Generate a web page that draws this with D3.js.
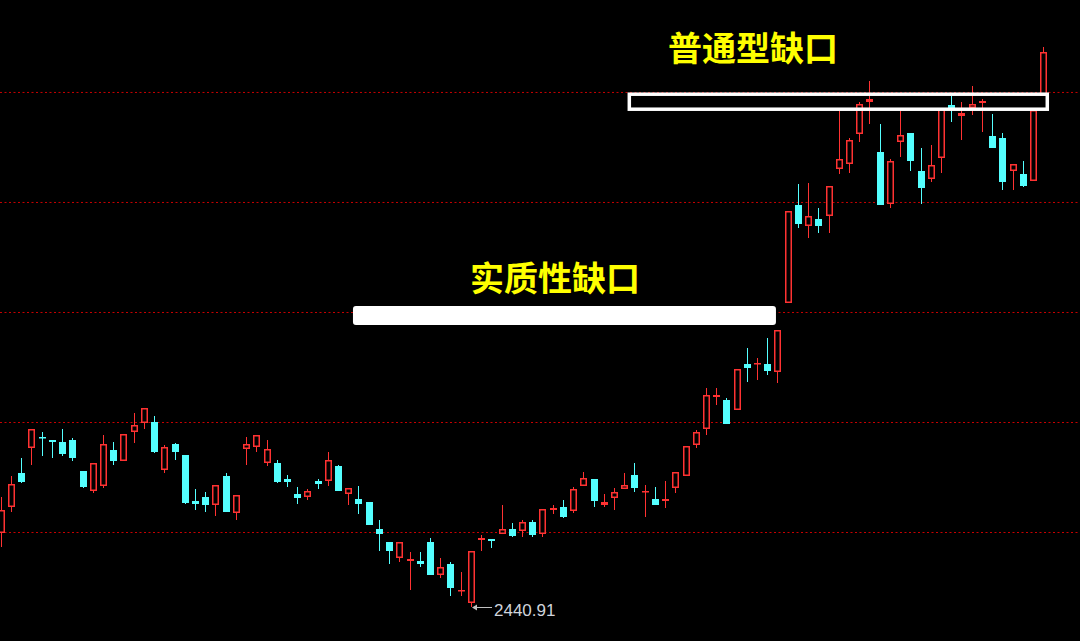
<!DOCTYPE html>
<html>
<head>
<meta charset="utf-8">
<script src="https://cdn.jsdelivr.net/npm/d3@7"></script>
<style>
  html, body { margin: 0; padding: 0; background: #000; }
  svg { display: block; }
</style>
</head>
<body>
<div id="chart"></div>
<script>
// daily OHLC
var opens = [2552.9, 2592.3, 2643.7, 2681.6, 2698.2, 2693.7, 2690.6, 2693.7, 2646.7, 2616.5,
  2624.0, 2678.5, 2661.9, 2705.8, 2719.4, 2720.9, 2648.3, 2687.6, 2671.0, 2601.3,
  2607.4, 2595.3, 2639.2, 2583.2, 2680.0, 2683.1, 2658.9, 2658.9, 2634.6, 2611.9,
  2607.4, 2631.6, 2631.6, 2654.3, 2611.9, 2604.4, 2599.8, 2559.0, 2539.3, 2515.1,
  2510.5, 2510.5, 2539.3, 2489.3, 2506.0, 2465.1, 2447.0, 2542.3, 2543.8, 2551.4,
  2559.0, 2555.9, 2569.6, 2551.4, 2587.7, 2592.3, 2586.2, 2624.0, 2634.6, 2595.3,
  2605.9, 2619.5, 2640.7, 2615.0, 2604.4, 2601.3, 2621.0, 2639.2, 2686.1, 2710.3,
  2758.7, 2754.2, 2739.1, 2808.7, 2808.7, 2808.7, 2796.6, 2901.0, 3049.3, 3017.5,
  3028.1, 3032.7, 3103.8, 3111.4, 3156.8, 3205.2, 3129.5, 3050.9, 3144.7, 3158.3,
  3100.8, 3088.7, 3120.5, 3200.7, 3184.0, 3196.1, 3203.7, 3153.8, 3150.7, 3100.8,
  3096.2, 3085.7, 3214.3];
var highs = [2607.4, 2639.2, 2666.4, 2710.3, 2705.8, 2693.7, 2710.3, 2696.7, 2646.7, 2658.9,
  2701.2, 2690.6, 2702.7, 2734.5, 2742.1, 2730.0, 2686.1, 2689.1, 2671.0, 2619.5,
  2615.0, 2625.6, 2643.7, 2610.4, 2698.2, 2701.2, 2693.7, 2663.4, 2640.7, 2622.5,
  2619.5, 2634.6, 2675.5, 2655.8, 2621.0, 2624.0, 2599.8, 2572.6, 2539.3, 2539.3,
  2524.2, 2524.2, 2545.3, 2515.1, 2509.0, 2493.9, 2525.7, 2549.9, 2543.8, 2595.3,
  2568.0, 2572.6, 2572.6, 2589.2, 2595.3, 2602.9, 2622.5, 2645.2, 2634.6, 2611.9,
  2621.0, 2643.7, 2658.9, 2625.6, 2622.5, 2631.6, 2645.2, 2684.6, 2708.8, 2772.4,
  2772.4, 2757.2, 2801.1, 2832.9, 2817.8, 2848.0, 2860.1, 3040.3, 3081.1, 3082.6,
  3044.8, 3078.1, 3191.6, 3150.7, 3205.2, 3237.0, 3171.9, 3119.0, 3191.6, 3158.3,
  3135.6, 3140.1, 3194.6, 3214.3, 3205.2, 3229.4, 3209.8, 3187.1, 3158.3, 3111.4,
  3115.9, 3193.1, 3288.45];
var lows = [2531.7, 2584.7, 2628.6, 2655.8, 2669.4, 2666.4, 2669.4, 2661.9, 2621.0, 2613.4,
  2621.0, 2655.8, 2661.9, 2689.1, 2710.3, 2674.0, 2643.7, 2663.4, 2596.8, 2587.7,
  2584.7, 2578.6, 2584.7, 2572.6, 2655.8, 2675.5, 2654.3, 2628.6, 2622.5, 2596.8,
  2602.9, 2619.5, 2624.0, 2616.5, 2595.3, 2581.7, 2565.0, 2525.7, 2506.0, 2509.0,
  2466.6, 2501.5, 2489.3, 2484.8, 2457.6, 2457.6, 2440.91, 2525.7, 2530.2, 2551.4,
  2546.9, 2546.9, 2546.9, 2546.9, 2581.7, 2575.6, 2583.2, 2624.0, 2592.3, 2592.3,
  2587.7, 2619.5, 2615.0, 2577.1, 2595.3, 2590.7, 2613.4, 2639.2, 2681.6, 2701.2,
  2746.6, 2717.9, 2739.1, 2781.4, 2784.5, 2792.0, 2779.9, 2901.0, 3014.5, 2999.4,
  3007.0, 3007.0, 3096.2, 3097.8, 3144.7, 3171.9, 3049.3, 3044.8, 3122.0, 3100.8,
  3050.9, 3084.1, 3097.8, 3175.0, 3147.7, 3185.5, 3159.8, 3135.6, 3072.0, 3072.0,
  3076.6, 3085.7, 3214.3];
var closes = [2587.7, 2627.1, 2630.1, 2710.3, 2696.7, 2690.6, 2672.5, 2666.4, 2622.5, 2658.9,
  2687.6, 2661.9, 2702.7, 2716.4, 2742.1, 2675.5, 2683.1, 2675.5, 2598.3, 2596.8,
  2595.3, 2625.6, 2584.7, 2610.4, 2687.6, 2701.2, 2680.0, 2630.1, 2630.1, 2605.9,
  2616.5, 2627.1, 2663.4, 2616.5, 2621.0, 2596.8, 2565.0, 2551.4, 2525.7, 2539.3,
  2513.6, 2506.0, 2489.3, 2501.5, 2469.7, 2466.6, 2525.7, 2545.3, 2540.8, 2559.0,
  2548.4, 2569.6, 2549.9, 2589.2, 2590.7, 2577.1, 2619.5, 2636.1, 2601.3, 2599.8,
  2615.0, 2625.6, 2621.0, 2616.5, 2595.3, 2604.4, 2645.2, 2684.6, 2705.8, 2761.8,
  2761.8, 2717.9, 2801.1, 2802.6, 2810.2, 2798.1, 2860.1, 3040.3, 3020.6, 3032.7,
  3017.5, 3078.1, 3119.0, 3147.7, 3202.2, 3209.8, 3049.3, 3115.9, 3155.3, 3115.9,
  3075.1, 3109.9, 3194.6, 3196.1, 3188.6, 3202.2, 3206.7, 3135.6, 3084.1, 3111.4,
  3078.1, 3193.1, 3280.9];

var gridLevels = [2554.4, 2720.9, 2887.4, 3053.9, 3220.4];
var lowIndex = 46;
var lowLabel = "2440.91";

// gaps: [start index, end index, lower price, upper price]
var realGap = [34.46, 75.85, 2867.7, 2896.5];
var commonGap = [61.5, 102.4, 3194.3, 3217.0];
var realGapLabel = "实质性缺口";
var commonGapLabel = "普通型缺口";

var width = 1080;
var height = 641;
var upColor = "#ff3232";
var downColor = "#54ffff";

var svg = d3.select("#chart").append("svg").attr("width", width).attr("height", height)
  .style("background", "#000");

var x = d3.scaleLinear().domain([0, opens.length - 1]).range([0.8, 1043.2]);
var y = d3.scaleLinear().domain([2440.91, 3288.45]).range([607, 47]);

// dotted red grid lines
var grid = svg.append("g").call(d3.axisRight(y).tickValues(gridLevels).tickSize(width).tickFormat(""));
grid.select(".domain").remove();
grid.selectAll("line")
  .attr("stroke", "#c80000")
  .attr("stroke-dasharray", "2,2.5");

// candles
var candles = svg.append("g").selectAll("g")
  .data(d3.range(opens.length))
  .enter()
  .append("g");

candles.each(function (i) {
  var g = d3.select(this);
  var cx = Math.round(x(i));
  var o = opens[i], c = closes[i];
  var top = Math.round(y(Math.max(o, c)));
  var bot = Math.round(y(Math.min(o, c)));
  var hi = Math.round(y(highs[i]));
  var lo = Math.round(y(lows[i]));
  if (c >= o) {
    if (hi < top) g.append("line").attr("x1", cx + 0.5).attr("x2", cx + 0.5).attr("y1", hi).attr("y2", top)
      .attr("stroke", upColor);
    if (lo > bot) g.append("line").attr("x1", cx + 0.5).attr("x2", cx + 0.5).attr("y1", bot).attr("y2", lo)
      .attr("stroke", upColor);
    if (bot - top < 3) {
      g.append("rect")
        .attr("x", cx - 3).attr("width", 7)
        .attr("y", top).attr("height", Math.max(bot - top, 1.5))
        .attr("fill", upColor);
    } else {
      g.append("rect")
        .attr("x", cx - 2.25).attr("width", 5.5)
        .attr("y", top + 0.75).attr("height", bot - top - 1.5)
        .attr("fill", "#000")
        .attr("stroke", upColor)
        .attr("stroke-width", 1.5);
    }
  } else {
    g.append("line").attr("x1", cx + 0.5).attr("x2", cx + 0.5).attr("y1", hi).attr("y2", lo)
      .attr("stroke", downColor);
    g.append("rect")
      .attr("x", cx - 3).attr("width", 7)
      .attr("y", top).attr("height", Math.max(bot - top, 1.5))
      .attr("fill", downColor);
  }
});

// gap boxes
svg.append("rect")
  .attr("x", x(realGap[0])).attr("width", x(realGap[1]) - x(realGap[0]))
  .attr("y", y(realGap[3])).attr("height", y(realGap[2]) - y(realGap[3]))
  .attr("rx", 3)
  .attr("fill", "#fff");

svg.append("rect")
  .attr("x", x(commonGap[0])).attr("width", x(commonGap[1]) - x(commonGap[0]))
  .attr("y", y(commonGap[3])).attr("height", y(commonGap[2]) - y(commonGap[3]))
  .attr("fill", "none")
  .attr("stroke", "#fff")
  .attr("stroke-width", 3.5);

// labels
svg.append("text")
  .attr("x", 555).attr("y", 291)
  .attr("text-anchor", "middle")
  .style("font-family", "'Noto Sans CJK SC', sans-serif")
  .style("font-weight", "bold")
  .style("font-size", "34px")
  .attr("fill", "#ffff00")
  .text(realGapLabel);

svg.append("text")
  .attr("x", 753).attr("y", 61)
  .attr("text-anchor", "middle")
  .style("font-family", "'Noto Sans CJK SC', sans-serif")
  .style("font-weight", "bold")
  .style("font-size", "34px")
  .attr("fill", "#ffff00")
  .text(commonGapLabel);

// lowest point marker
var lx = Math.round(x(lowIndex)) + 1;
var ly = Math.round(y(lows[lowIndex])) + 0.5;
svg.append("line")
  .attr("x1", lx + 2).attr("x2", lx + 20)
  .attr("y1", ly).attr("y2", ly)
  .attr("stroke", "#c0c0c0");
svg.append("path")
  .attr("d", "M" + lx + "," + ly + "L" + (lx + 5) + "," + (ly - 3) + "L" + (lx + 5) + "," + (ly + 3) + "Z")
  .attr("fill", "#c0c0c0");
svg.append("text")
  .attr("x", lx + 22).attr("y", ly + 8)
  .style("font-family", "'Liberation Sans', Arial, sans-serif")
  .style("font-size", "17px")
  .attr("fill", "#d0d4dc")
  .text(lowLabel);
</script>
</body>
</html>
